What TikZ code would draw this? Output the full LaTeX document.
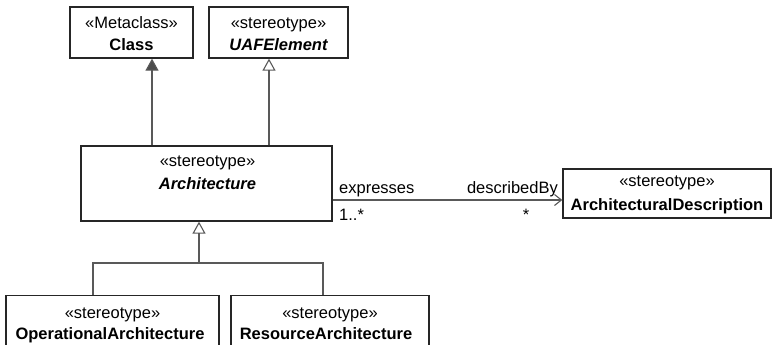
\documentclass[tikz,border=0pt]{standalone}
\usepackage{fontspec}
\setmainfont{Liberation Sans}
\usetikzlibrary{arrows.meta}
\begin{document}
\begin{tikzpicture}[x=1pt,y=-1pt,
  umlbox/.style={draw=black!85, line width=1.3pt, inner sep=0pt},
  txt/.style={inner sep=0pt, anchor=base, font=\fontsize{16.5}{19}\selectfont},
  lbl/.style={inner sep=0pt, font=\fontsize{16.5}{19}\selectfont},
  conn/.style={draw=black!65, line width=1.1pt},
  genopen/.style={conn, -{Triangle[open, length=12pt, width=13pt, line width=1.1pt]}},
  genfill/.style={conn, -{Triangle[length=12pt, width=13pt, fill=black!70]}},
  assoc/.style={conn, -{Straight Barb[length=7pt, width=11pt, line width=1.1pt]}}
]
\useasboundingbox (0,0) rectangle (772,345);
% boxes
\node[umlbox, minimum width=123pt, minimum height=51pt] (cls) at (131.5,32.5) {};
\node[umlbox, minimum width=139pt, minimum height=51pt] (uaf) at (278.5,32.5) {};
\node[umlbox, minimum width=251pt, minimum height=75pt] (arch) at (206.5,183.5) {};
\node[umlbox, minimum width=208pt, minimum height=49pt] (ad) at (667,193.5) {};
\node[umlbox, minimum width=213pt, minimum height=50pt] (op) at (112.5,320.5) {};
\node[umlbox, minimum width=198pt, minimum height=50pt] (ra) at (330,320.5) {};
% texts
\node[txt] (clsS) at (131.5,28.5) {«Metaclass»};
\node[txt] (clsN) at (131.5,51) {\bfseries Class};
\node[txt] (uafS) at (278.5,28.5) {«stereotype»};
\node[txt] (uafN) at (278.5,51) {\bfseries\itshape UAFElement};
\node[txt] (archS) at (207.5,166.5) {«stereotype»};
\node[txt] (archN) at (207.5,189.5) {\bfseries\itshape Architecture};
\node[txt] (adS) at (667,186.5) {«stereotype»};
\node[txt] (adN) at (667,210) {\bfseries ArchitecturalDescription};
\node[txt] (opS) at (112.5,318.5) {«stereotype»};
\node[txt] (opN) at (110,339.5) {\bfseries OperationalArchitecture};
\node[txt] (raS) at (330,318.5) {«stereotype»};
\node[txt] (raN) at (326,339.5) {\bfseries ResourceArchitecture};
% connector guide coordinates
\coordinate (x1) at (152,0);
\coordinate (x2) at (269,0);
\coordinate (x3) at (199,0);
\coordinate (bar) at (0,263);
\coordinate (x4) at (93,0);
\coordinate (x5) at (323,0);
\coordinate (ay) at (0,200);
% connectors
\draw[genfill] (arch.north -| x1) -- (cls.south -| x1);
\draw[genopen] (arch.north -| x2) -- (uaf.south -| x2);
\draw[conn] (op.north -| x4) -- (bar -| x4) -- (bar -| x5) -- (ra.north -| x5);
\draw[genopen] (bar -| x3) -- (arch.south -| x3);
\draw[assoc] (arch.east |- ay) -- (ad.west |- ay);
% association labels
\node[lbl, anchor=base west] (e1) at (339,193) {expresses};
\node[lbl, anchor=base east] (e2) at (558,193) {describedBy};
\node[lbl, anchor=base west] (m1) at (339,220) {1..*};
\node[lbl, anchor=base] (m2) at (526,220) {*};
\end{tikzpicture}
\end{document}
